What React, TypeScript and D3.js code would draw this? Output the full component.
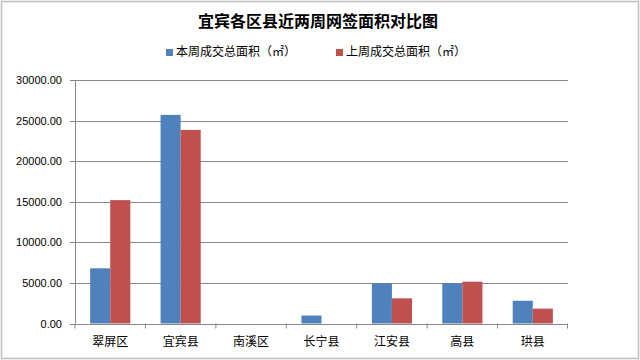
import React from "react";
import * as d3 from "d3";

const categories = ["翠屏区", "宜宾县", "南溪区", "长宁县", "江安县", "高县", "珙县"];
const thisWeek = [6800, 25700, 0, 980, 4950, 4950, 2800];
const lastWeek = [15200, 23850, 0, 0, 3100, 5150, 1830];
const seriesNames = ["本周成交总面积（㎡）", "上周成交总面积（㎡）"];
const yTicks = [0, 5000, 10000, 15000, 20000, 25000, 30000];
const title = "宜宾各区县近两周网签面积对比图";

const W = 640, H = 360;
const left = 75, right = 568, top = 80, bottom = 323.5;
const colors = ["#4F81BD", "#C0504D"];
const cjk = "'Noto Sans CJK SC', 'Noto Sans', sans-serif";
const num = "'Liberation Sans', Arial, sans-serif";

export default function App() {
  const x = d3.scaleBand<string>().domain(categories).range([left, right]).paddingInner(0.43).paddingOuter(0.215);
  const y = d3.scaleLinear().domain([0, 30000]).range([bottom, top]);
  const step = x.step();
  const bw = x.bandwidth() / 2;
  const series = [thisWeek, lastWeek];
  return (
    <div style={{ position: "fixed", left: 0, top: 0 }}>
      <svg width={W} height={H} style={{ display: "block", background: "#fff" }}>
        <rect x={1.5} y={1.5} width={W - 3} height={H - 3} fill="#fff" stroke="#BFBFBF" strokeWidth={1.5} />
        <text x={318} y={27} textAnchor="middle" fontFamily={cjk} fontWeight="bold" fontSize={16} fill="#000">{title}</text>
        {seriesNames.map((s, i) => {
          const lx = i === 0 ? 166 : 336;
          return (
            <g key={s}>
              <rect x={lx} y={49} width={7} height={7} fill={colors[i]} />
              <text x={lx + 10} y={56} fontFamily={cjk} fontSize={12} fill="#000">{s}</text>
            </g>
          );
        })}
        {yTicks.map((t) => (
          <g key={t}>
            <line x1={left} x2={right} y1={Math.round(y(t)) + 0.5} y2={Math.round(y(t)) + 0.5} stroke="#868686" strokeWidth={1} />
            <line x1={left - 5} x2={left} y1={Math.round(y(t)) + 0.5} y2={Math.round(y(t)) + 0.5} stroke="#868686" />
            <text x={62} y={y(t) + 4} textAnchor="end" fontFamily={num} fontSize={11} fill="#000">{d3.format(".2f")(t)}</text>
          </g>
        ))}
        <line x1={left + 0.5} x2={left + 0.5} y1={top} y2={bottom} stroke="#868686" />
        {categories.map((c, i) => (
          <line key={"t" + c} x1={left + i * step} x2={left + i * step} y1={bottom} y2={bottom + 5} stroke="#868686" />
        ))}
        <line x1={right - 0.5} x2={right - 0.5} y1={bottom} y2={bottom + 5} stroke="#868686" />
        {categories.map((c, i) => (
          <g key={c}>
            {series.map((s, j) => (
              <rect key={j} x={(x(c) as number) + j * bw} y={y(s[i])} width={bw} height={bottom - y(s[i])} fill={colors[j]} />
            ))}
            <text x={(x(c) as number) + x.bandwidth() / 2} y={346} textAnchor="middle" fontFamily={cjk} fontSize={12} fill="#000">{c}</text>
          </g>
        ))}
      </svg>
    </div>
  );
}
